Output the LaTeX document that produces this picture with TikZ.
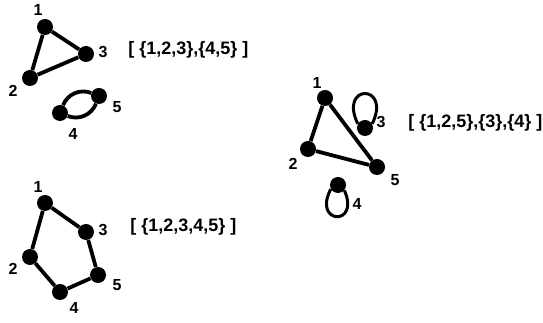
\documentclass[tikz,border=0pt]{standalone}
\usepackage{fontspec}
\setmainfont{Liberation Sans}
\usetikzlibrary{positioning}

\begin{document}
\begin{tikzpicture}[x=1pt, y=1pt, semithick]
	\tikzstyle{vertex} = [circle, fill=black, inner sep=0pt, minimum size=16pt];
	\tikzstyle{num} = [inner sep=0pt, font={\bfseries\fontsize{16}{16}\selectfont}];
	\tikzstyle{partition} = [anchor=west, inner sep=0pt, font={\bfseries\fontsize{18}{18}\selectfont}];
	\tikzstyle{edgeLine} = [black, line width=3.8pt];
	\tikzstyle{loopLine} = [black, line width=3pt];

	\useasboundingbox (0,0) rectangle (543,323);

	% first partition
	\node[vertex](a1) at (45,296) {};
	\node[vertex](a2) at (30,245) {};
	\node[vertex](a3) at (86,269) {};
	\node[vertex](a4) at (60,210) {};
	\node[vertex](a5) at (99,227) {};
	\node[num](la1) at (38,313) {1};
	\node[num](la2) at (13,232) {2};
	\node[num](la3) at (103,271) {3};
	\node[num](la4) at (73,189) {4};
	\node[num](la5) at (117,216) {5};
	\node[partition](pa) at (128,273) {[ \{1,2,3\},\{4,5\} ]};

	\path[edgeLine]
	(a1) edge (a2)
		edge (a3)
	(a2) edge (a3)
	(a4) edge [bend left=45] (a5)
		edge [bend right=45] (a5);

	% second partition
	\node[vertex](b1) at (45,120) {};
	\node[vertex](b2) at (30,66) {};
	\node[vertex](b3) at (86,91) {};
	\node[vertex](b4) at (60,31) {};
	\node[vertex](b5) at (98,48) {};
	\node[num](lb1) at (38,136) {1};
	\node[num](lb2) at (13,54) {2};
	\node[num](lb3) at (103,93) {3};
	\node[num](lb4) at (74,15) {4};
	\node[num](lb5) at (117,38) {5};
	\node[partition](pb) at (130,96) {[ \{1,2,3,4,5\} ]};

	\path[edgeLine]
	(b1) edge (b2)
		edge (b3)
	(b2) edge (b4)
	(b4) edge (b5)
	(b5) edge (b3);

	% third partition
	\node[vertex](c1) at (325,225) {};
	\node[vertex](c2) at (308,174) {};
	\node[vertex](c3) at (365,195) {};
	\node[vertex](c4) at (338,138) {};
	\node[vertex](c5) at (377,156) {};
	\node[num](lc1) at (317,240) {1};
	\node[num](lc2) at (293,159) {2};
	\node[num](lc3) at (381,201) {3};
	\node[num](lc4) at (357,119) {4};
	\node[num](lc5) at (395,143) {5};
	\node[partition](pc) at (408,200) {[ \{1,2,5\},\{3\},\{4\} ]};

	\path[edgeLine]
	(c1) edge (c2)
		edge (c5)
	(c2) edge (c5);
	\path[loopLine]
	(c3.150) edge [out=116, in=64, distance=45pt] (c3.30)
	(c4.-150) edge [out=-118, in=-66, distance=40pt] (c4.-40);
\end{tikzpicture}
\end{document}
